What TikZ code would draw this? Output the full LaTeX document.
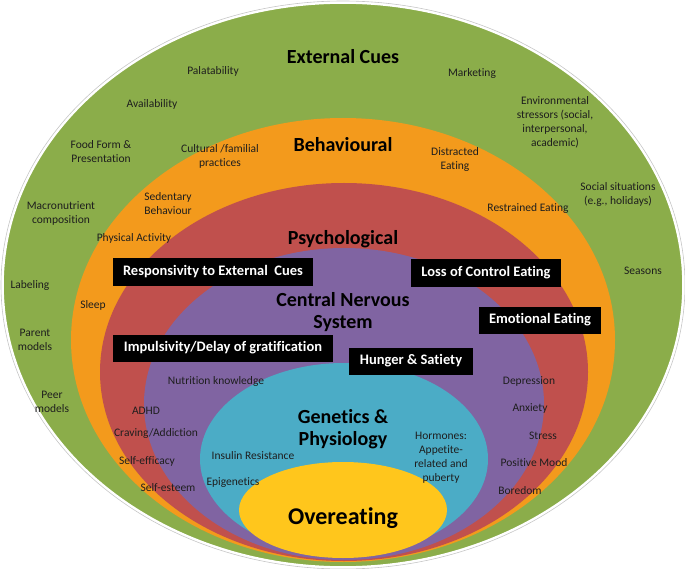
\documentclass[tikz,border=0pt]{standalone}
\usepackage{fontspec}
\setmainfont{Carlito}[Ligatures=NoCommon]
\usetikzlibrary{positioning}
\definecolor{extgreen}{HTML}{8BAD4A}
\definecolor{behorange}{HTML}{F39A1C}
\definecolor{psyred}{HTML}{C0504D}
\definecolor{cnspurple}{HTML}{8064A2}
\definecolor{genaqua}{HTML}{4BACC6}
\definecolor{overyellow}{HTML}{FFC61C}
\definecolor{ink}{HTML}{1E1E1E}
\tikzset{lbl/.style={align=center,font=\fontsize{11.5}{14}\selectfont,text=ink,inner sep=1pt}, head/.style={align=center,font=\fontsize{20}{22}\selectfont\bfseries,text=black,inner sep=1pt},blk/.style={fill=black,text=white,font=\fontsize{14.5}{16}\selectfont\bfseries,minimum height=27pt,inner xsep=10.5pt}}

\begin{document}
\begin{tikzpicture}[x=1pt,y=-1pt]
\useasboundingbox (0,0) rectangle (685,569);
% nested layers
\draw[gray!45,line width=0.6pt] (343,285) ellipse [x radius=342, y radius=284];
\fill[extgreen,draw=white,line width=1.6pt] (343,285) ellipse [x radius=340, y radius=282];
\fill[behorange] (343,340) ellipse [x radius=272, y radius=222];
\fill[psyred] (344,372) ellipse [x radius=244, y radius=189];
\fill[cnspurple] (344,404) ellipse [x radius=200, y radius=156];
\fill[genaqua] (344,459) ellipse [x radius=144, y radius=96];
\fill[overyellow] (343,510) ellipse [x radius=104, y radius=48];
% layer titles
\node[head] (ext) at (343,57) {External Cues};
\node[head] (beh) at (343,145) {Behavioural};
\node[head] (psy) at (343,239) {Psychological};
\node[head] (cns) at (343,312) {Central Nervous\\System};
\node[head] (gen) at (343,429) {Genetics \&\\Physiology};
\node[head,font=\fontsize{24}{26}\selectfont\bfseries] (over) at (343,518) {Overeating};
% external cues
\node[lbl] (pal) at (213,71) {Palatability};
\node[lbl] (mkt) at (472,73) {Marketing};
\node[lbl] (avl) at (152,104) {Availability};
\node[lbl] (env) at (555,122) {Environmental\\stressors (social,\\interpersonal,\\academic)};
\node[lbl] (ffp) at (101,152) {Food Form \&\\Presentation};
\node[lbl] (mac) at (61,213) {Macronutrient\\composition};
\node[lbl] (soc) at (618,194) {Social situations\\(e.g., holidays)};
\node[lbl] (lab) at (30,285) {Labeling};
\node[lbl] (sea) at (643,271) {Seasons};
\node[lbl] (par) at (35,340) {Parent\\models};
\node[lbl] (peer) at (52,402) {Peer\\models};
% behavioural
\node[lbl] (cul) at (220,156) {Cultural /familial\\practices};
\node[lbl] (dis) at (455,159) {Distracted\\Eating};
\node[lbl] (sed) at (168,204) {Sedentary\\Behaviour};
\node[lbl] (res) at (528,208) {Restrained Eating};
\node[lbl] (phy) at (134,238) {Physical Activity};
\node[lbl] (slp) at (93,305) {Sleep};
% psychological boxes
\node[blk] (rsp) at (213,272) {Responsivity to External~ Cues};
\node[blk] (loc) at (486,273) {Loss of Control Eating};
\node[blk] (emo) at (540,320) {Emotional Eating};
\node[blk] (imp) at (223,348) {Impulsivity/Delay of gratification};
\node[blk] (hun) at (411,361) {Hunger \& Satiety};
% psychological / CNS
\node[lbl] (nut) at (216,381) {Nutrition knowledge};
\node[lbl] (dep) at (529,381) {Depression};
\node[lbl] (adhd) at (146,411) {ADHD};
\node[lbl] (anx) at (530,408) {Anxiety};
\node[lbl] (crv) at (156,433) {Craving/Addiction};
\node[lbl] (str) at (543,436) {Stress};
\node[lbl] (sef) at (147,461) {Self-efficacy};
\node[lbl] (pos) at (534,463) {Positive Mood};
\node[lbl] (ses) at (168,488) {Self-esteem};
\node[lbl] (bor) at (520,491) {Boredom};
% genetics
\node[lbl] (ins) at (253,456) {Insulin Resistance};
\node[lbl] (epi) at (233,483) {Epigenetics};
\node[lbl] (hor) at (441,458) {Hormones:\\Appetite-\\related and\\puberty};
\end{tikzpicture}
\end{document}
